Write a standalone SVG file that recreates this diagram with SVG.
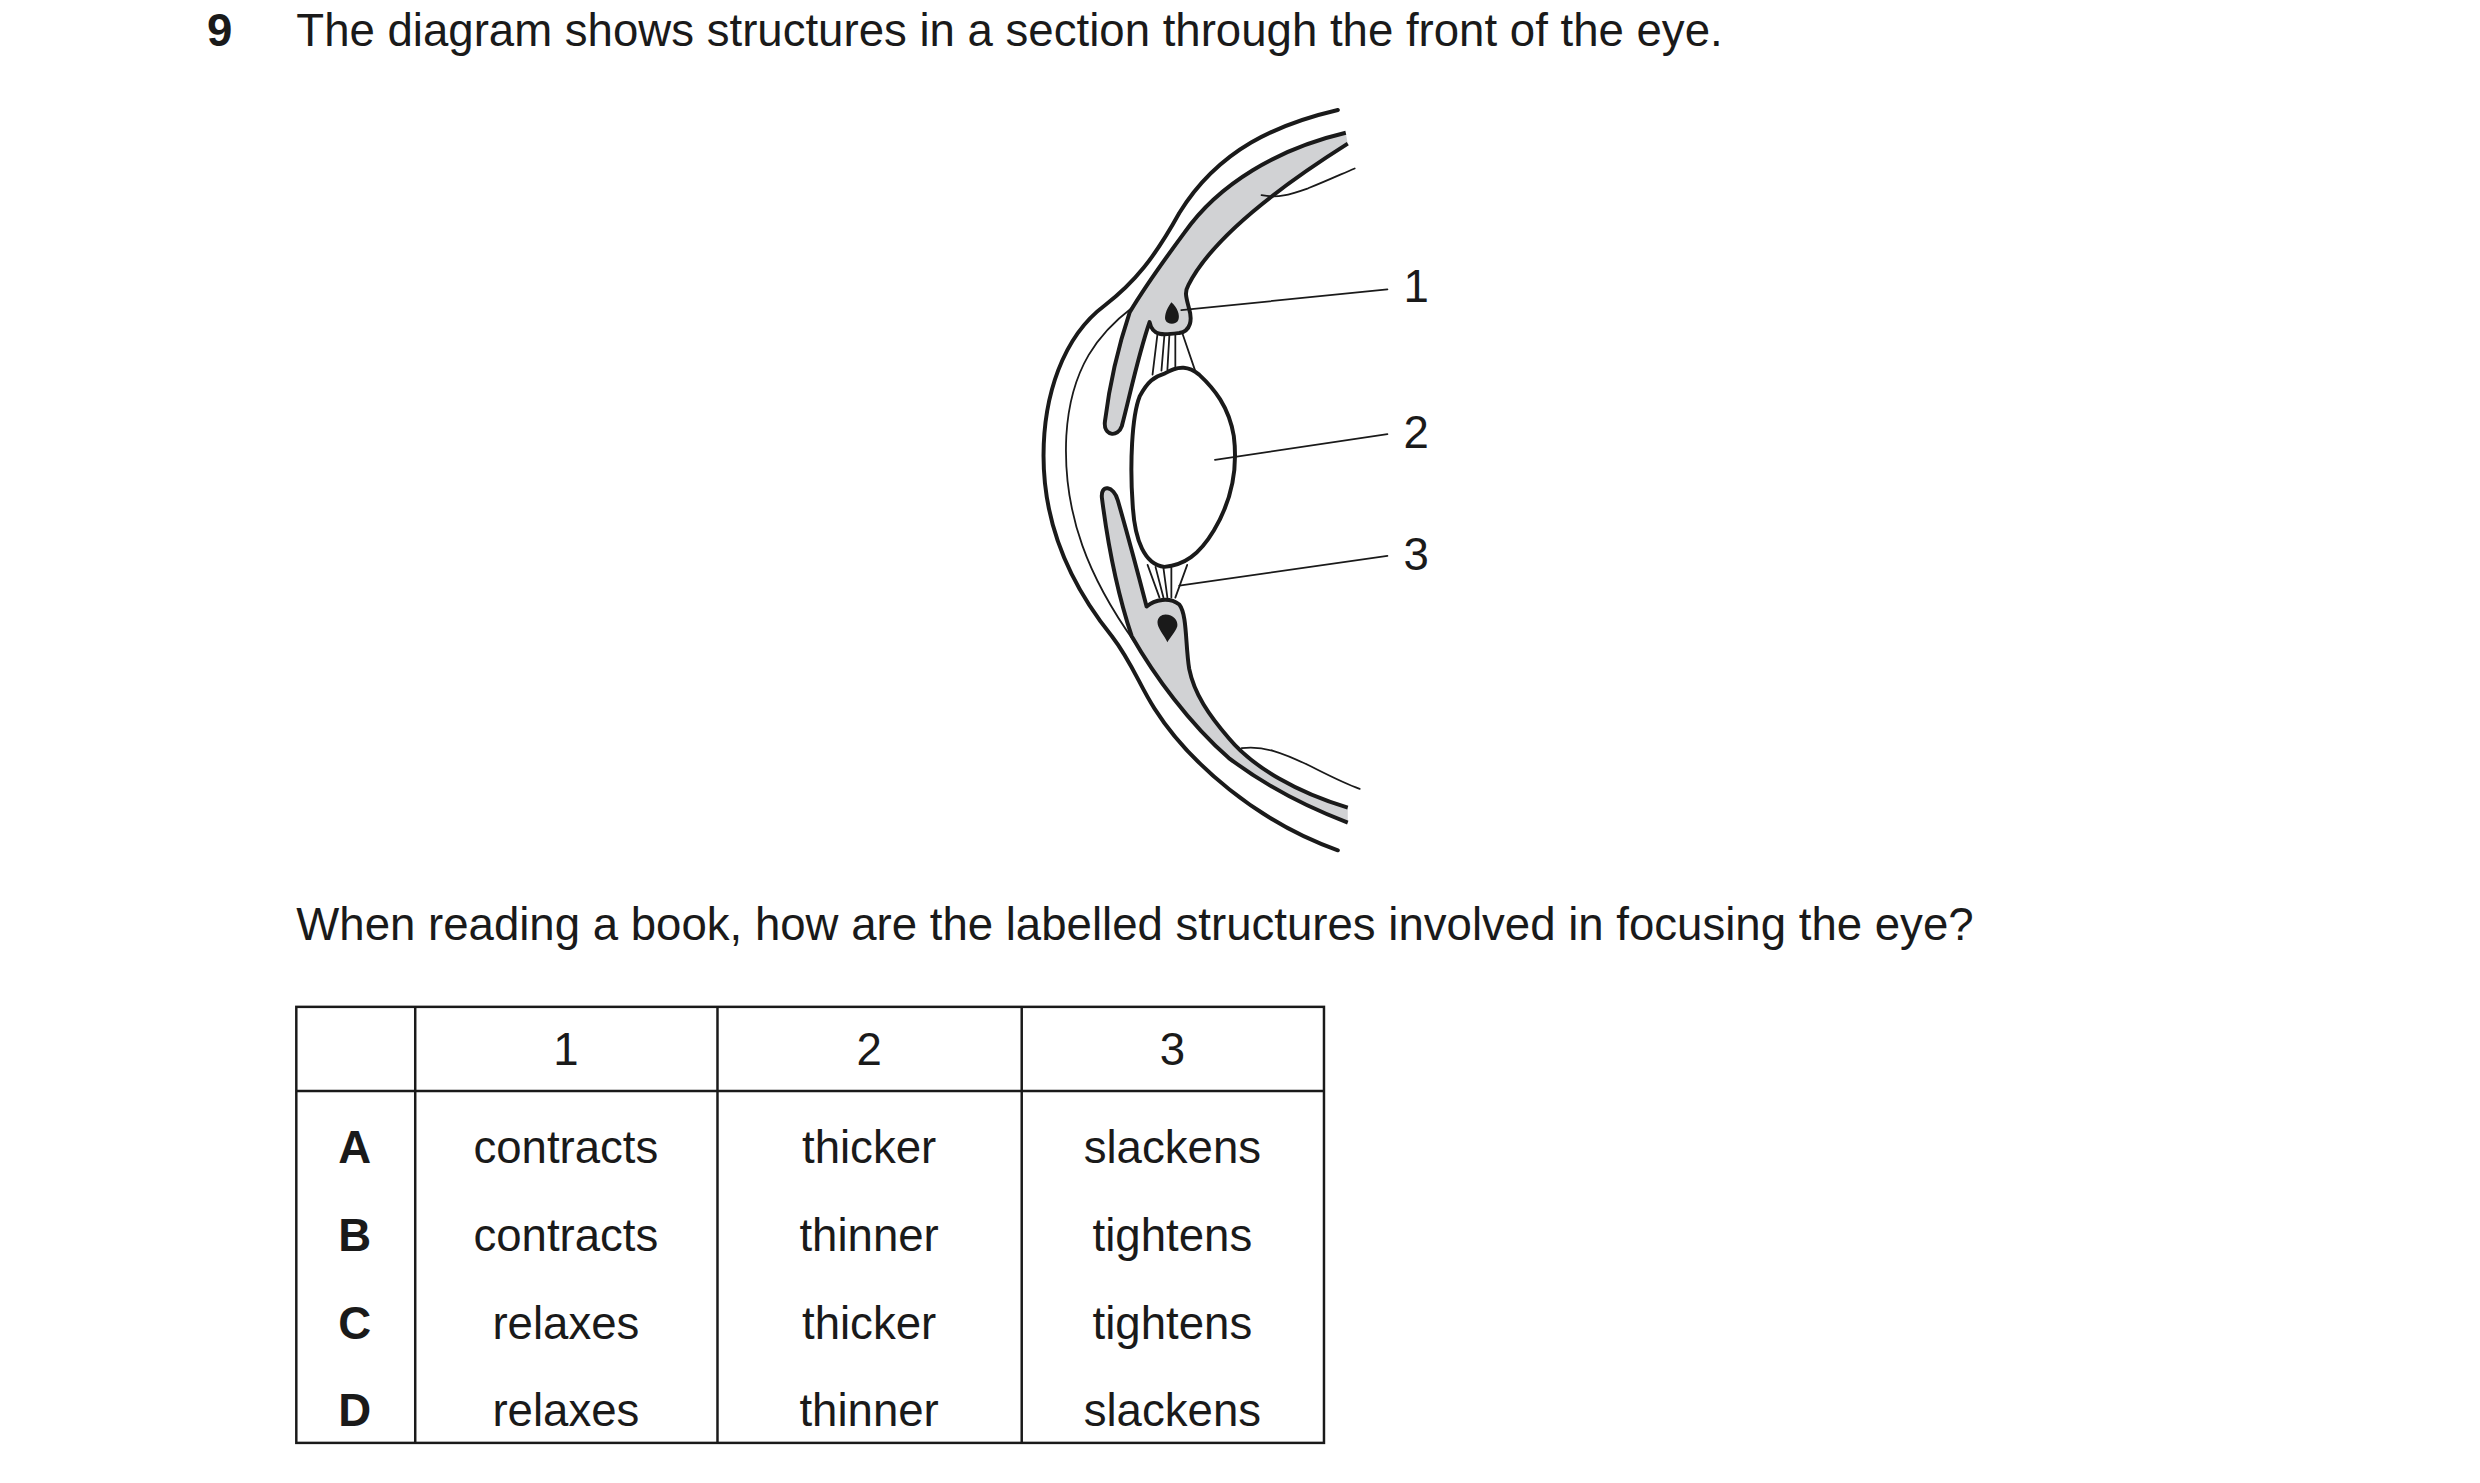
<svg xmlns="http://www.w3.org/2000/svg" width="2480" height="1483" viewBox="0 0 2480 1483">
<style>
text{font-family:"Liberation Sans",Arial,sans-serif;font-size:46px;fill:#1a1a1a}
.c{text-anchor:middle}
.b{font-weight:bold}
.thick{fill:none;stroke:#1a1a1a;stroke-width:4;stroke-linecap:round}
.thin{fill:none;stroke:#1a1a1a;stroke-width:1.8;stroke-linecap:round}
.gray{fill:#d1d2d4;stroke:#1a1a1a;stroke-width:4;stroke-linejoin:round}
.cell{fill:none;stroke:#1a1a1a;stroke-width:2.5}
</style>
<rect width="2480" height="1483" fill="#fff"/>
<g transform="scale(0.991)">
<text x="209" y="46" class="b">9</text>
<text x="299" y="46">The diagram shows structures in a section through the front of the eye.</text>
<g id="eye">
<path class="thick" d="M1350,111 C1290,125 1230,150 1190,215 C1165,260 1145,285 1115,308 C1072,340 1053,400 1053,460 C1053,530 1080,590 1122,642 C1142,668 1150,692 1165,715 C1200,770 1270,830 1350,858"/>
<path class="thin" d="M1143,310 C1110,335 1080,370 1076,440 C1072,520 1100,585 1145,648"/>
<path class="gray" d="M1358,134 C1290,150 1230,185 1195,235 C1175,262 1155,290 1140,315 C1130,345 1120,385 1115,425 C1113,440 1128,442 1132,430 C1140,400 1148,360 1160,325 C1163,340 1175,338 1190,336 C1202,334 1203,322 1200,312 C1197,300 1195,295 1199,288 C1218,250 1265,205 1360,145"/>
<path class="gray" d="M1360,815 C1310,800 1265,775 1240,745 C1220,722 1205,700 1200,675 C1196,650 1198,620 1190,610 C1180,602 1165,605 1157,612 C1150,585 1138,540 1128,505 C1124,490 1110,488 1112,503 C1118,550 1128,600 1142,642 C1165,682 1200,730 1240,765 C1280,795 1320,815 1360,830"/>
<path d="M1182,305 C1176,313 1175,320 1176,323 C1178,328 1187,328 1189,323 C1191,318 1188,310 1182,305 Z" fill="#1a1a1a"/>
<path d="M1176,620 C1184,620 1189,626 1188,632 C1186,638 1181,643 1178,648 C1174,640 1168,634 1168,628 C1168,623 1172,620 1176,620 Z" fill="#1a1a1a"/>
<path class="thin" d="M1273,197 C1290,200 1300,197 1320,190 C1340,182 1355,175 1367,170"/>
<path class="thin" d="M1253,755 C1275,752 1295,760 1320,772 C1340,782 1355,790 1372,796"/>
<path class="thin" d="M1168,337 L1163,378 M1175,338 L1172,374 M1180,338 L1178,373 M1186,337 L1186,374 M1193,336 L1207,377"/>
<path class="thin" d="M1158,570 L1170,603 M1166,572 L1174,603 M1174,573 L1178,603 M1182,573 L1182,603 M1198,570 L1186,603"/>
<path class="thick" d="M1175,377 C1190,368 1200,370 1210,378 C1225,392 1240,410 1245,440 C1250,480 1240,510 1225,535 C1210,560 1195,570 1175,572 C1155,570 1145,545 1143,510 C1140,470 1142,420 1150,400 C1158,385 1165,380 1175,377 Z" style="fill:#fff"/>
</g>
<g id="connectors">
<path class="thin" d="M1192,313 L1400,292"/>
<path class="thin" d="M1226,464 L1400,438"/>
<path class="thin" d="M1190,591 L1400,561"/>
</g>
<g id="labels">
<text x="1429" y="305" class="c">1</text>
<text x="1429" y="452" class="c">2</text>
<text x="1429" y="575" class="c">3</text>
</g>
<text x="299" y="949">When reading a book, how are the labelled structures involved in focusing the eye?</text>
<g id="table">
<rect class="cell" x="299" y="1016" width="1037" height="440"/>
<path class="cell" d="M419,1016 V1456 M724,1016 V1456 M1031,1016 V1456 M299,1101 H1336"/>
<text x="571" y="1075" class="c">1</text><text x="877" y="1075" class="c">2</text><text x="1183" y="1075" class="c">3</text>
<text x="358" y="1174" class="c b">A</text><text x="571" y="1174" class="c">contracts</text><text x="877" y="1174" class="c">thicker</text><text x="1183" y="1174" class="c">slackens</text>
<text x="358" y="1262" class="c b">B</text><text x="571" y="1262" class="c">contracts</text><text x="877" y="1262" class="c">thinner</text><text x="1183" y="1262" class="c">tightens</text>
<text x="358" y="1351" class="c b">C</text><text x="571" y="1351" class="c">relaxes</text><text x="877" y="1351" class="c">thicker</text><text x="1183" y="1351" class="c">tightens</text>
<text x="358" y="1439" class="c b">D</text><text x="571" y="1439" class="c">relaxes</text><text x="877" y="1439" class="c">thinner</text><text x="1183" y="1439" class="c">slackens</text>
</g>
</g>
</svg>
